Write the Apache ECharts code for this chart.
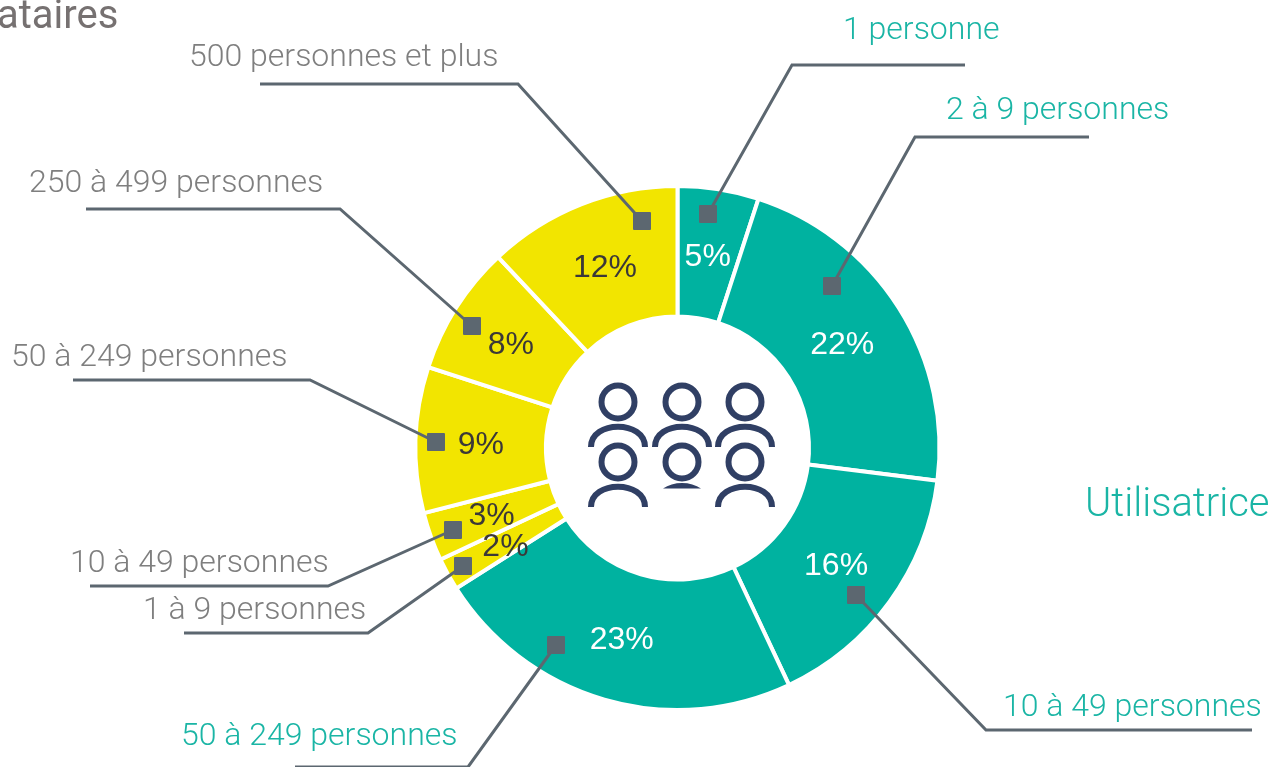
<!DOCTYPE html>
<html>
<head>
<meta charset="utf-8">
<title>Répartition par taille</title>
<style>
  html, body { margin: 0; padding: 0; background: #fff; overflow: hidden; }
  #cht { width: 1268px; height: 767px; }
</style>
<script src="https://cdn.jsdelivr.net/npm/echarts@6/dist/echarts.min.js"></script>
</head>
<body>
<div id="cht"></div>
<script>
const TEAL = '#00B2A0';
const YELLOW = '#F2E500';
const TEAL_TEXT = '#1AB5A5';
const GREY_TEXT = '#7F7F7F';
const LINE = '#5C6770';
const ICON = '#303F64';

// slices, clockwise from 12 o'clock
const categories = [
  '1 personne', '2 à 9 personnes', '10 à 49 personnes', '50 à 249 personnes',
  '1 à 9 personnes', '10 à 49 personnes', '50 à 249 personnes',
  '250 à 499 personnes', '500 personnes et plus',
];
const values = [5, 22, 16, 23, 2, 3, 9, 8, 12];
const isTeal = [true, true, true, true, false, false, false, false, false];

// nudge of the percent labels away from the mid-ring position
const labelNudge = [
  [-1, 6], [-4, 4], [-3, 1], [0, 0],
  [3, 3], [2, 1], [3, 3], [2, 4], [1, 6],
];

// callouts, same order as the slices: label x/y, leader polyline (last point = square)
const labelPos = [
  [843, 31], [946, 111], [1003, 708], [181, 737],
  [143, 611], [70, 564], [11, 358], [29, 184], [189, 58],
];
const leaders = [
  [[965, 65], [792, 65], [708, 214]],
  [[1089, 137], [915, 137], [832, 286]],
  [[1252, 730], [986, 730], [856, 595]],
  [[295, 767], [468, 767], [556, 645]],
  [[184, 633], [368, 633], [463, 566]],
  [[90, 586], [328, 586], [453, 530]],
  [[73, 380], [310, 380], [436, 442]],
  [[86, 209], [340, 209], [472, 326]],
  [[260, 84], [518, 84], [642, 221]],
];

// people icon in the hole
const headXs = [618, 682, 745];
const headYs = [402, 462];

const callouts = [];
categories.forEach((name, i) => {
  const pts = leaders[i];
  const end = pts[pts.length - 1];
  callouts.push({
    type: 'polyline',
    z: 10,
    shape: { points: pts },
    style: { stroke: LINE, lineWidth: 3, fill: null },
  });
  callouts.push({
    type: 'rect',
    z: 11,
    shape: { x: end[0] - 9, y: end[1] - 9, width: 18, height: 18, r: 1 },
    style: { fill: LINE },
  });
  callouts.push({
    type: 'text',
    z: 11,
    x: labelPos[i][0],
    y: labelPos[i][1],
    style: {
      text: name,
      fill: isTeal[i] ? TEAL_TEXT : GREY_TEXT,
      font: '300 32px Roboto',
      textAlign: 'left',
      textVerticalAlign: 'middle',
    },
  });
});

const icon = [];
headYs.forEach((y, row) => {
  headXs.forEach((x, col) => {
    icon.push({
      type: 'circle',
      z: 5,
      shape: { cx: x, cy: y, r: 16.5 },
      style: { stroke: ICON, lineWidth: 6, fill: null },
    });
    // the middle figure of the bottom row only shows a sliver of shoulders
    if (row === 1 && col === 1) {
      icon.push({
        type: 'bezierCurve',
        z: 5,
        shape: { x1: x - 19, y1: 488.5, cpx1: x - 9, cpy1: 481, cpx2: x + 9, cpy2: 481, x2: x + 19, y2: 488.5 },
        style: { fill: ICON, stroke: null },
      });
    } else {
      const base = y + 45;
      icon.push({
        type: 'bezierCurve',
        z: 5,
        shape: { x1: x - 27, y1: base, cpx1: x - 27, cpy1: base - 27, cpx2: x + 27, cpy2: base - 27, x2: x + 27, y2: base },
        style: { stroke: ICON, lineWidth: 6, fill: null },
      });
    }
  });
});

const titles = [
  {
    type: 'text',
    x: -3,
    y: 18,
    style: { text: 'ataires', fill: '#767171', font: '400 40px Roboto', textVerticalAlign: 'middle' },
  },
  {
    type: 'text',
    x: 1085,
    y: 506,
    style: { text: 'Utilisatrices', fill: TEAL_TEXT, font: '300 40px Roboto', textVerticalAlign: 'middle' },
  },
];

const cht = echarts.init(document.getElementById('cht'));

cht.setOption({
  animation: false,
  backgroundColor: '#fff',
  series: [
    {
      type: 'pie',
      center: [677.5, 448],
      radius: [131.5, 262],
      startAngle: 90,
      clockwise: true,
      avoidLabelOverlap: false,
      data: values.map((v, i) => ({
        value: v,
        name: categories[i],
        itemStyle: { color: isTeal[i] ? TEAL : YELLOW },
        label: { color: isTeal[i] ? '#fff' : '#3B3838', offset: labelNudge[i] },
      })),
      itemStyle: { borderColor: '#fff', borderWidth: 4 },
      label: {
        position: 'inside',
        formatter: '{c}%',
        fontFamily: 'Liberation Sans',
        fontSize: 32,
      },
      labelLine: { show: false },
      labelLayout: { hideOverlap: false },
      emphasis: { disabled: true },
    },
  ],
  graphic: { elements: [...titles, ...icon, ...callouts] },
});

window.onresize = () => cht.resize();
</script>
</body>
</html>
